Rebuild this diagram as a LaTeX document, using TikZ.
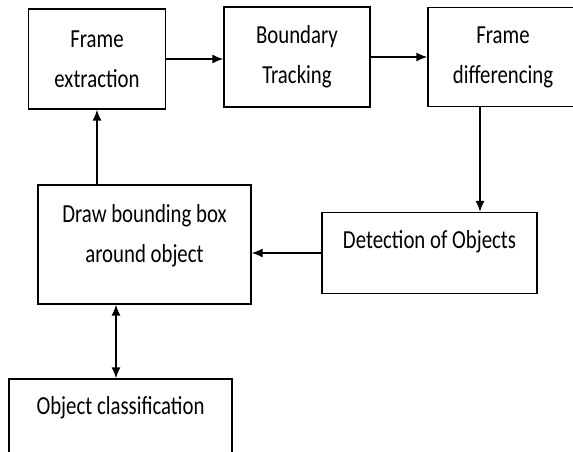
\documentclass[tikz,border=0pt]{standalone}
\usepackage{fontspec}
\setmainfont{Carlito}[FakeStretch=0.8]
\usepackage{tikz}
\usetikzlibrary{arrows.meta}
\tikzset{>={Latex[length=11pt,width=9pt]}}

\begin{document}
\begin{tikzpicture}[x=1pt,y=-1pt,
    box/.style={draw,line width=1.3pt,inner sep=0pt,align=center,
      font=\fontsize{26}{40}\selectfont},
    flow/.style={->,line width=1.4pt}]
    \useasboundingbox (0,0) rectangle (573,452);
      \node[box,minimum width=137pt,minimum height=100pt] (fe) at (97,59) {Frame\\extraction};
      \node[box,minimum width=146pt,minimum height=100pt] (bt) at (297,57) {Boundary\\Tracking};
      \node[box,minimum width=150pt,minimum height=99pt] (fd) at (503,57) {Frame\\differencing};
      \node[box,minimum width=215pt,minimum height=81pt] (det) at (429.5,253) {Detection of Objects\\[-12pt]\mbox{}};
      \node[box,minimum width=213pt,minimum height=119pt] (bbox) at (144.5,244.5) {Draw bounding box\\around object\\[-17pt]\mbox{}};
      \node[box,minimum width=223pt,minimum height=81pt] (oc) at (120.5,419.5) {Object classification\\[-12pt]\mbox{}};
      \coordinate (dn) at (480,0);
      \coordinate (cl) at (116,0);
      \draw[flow] (fe.east) -- (fe.east -| bt.west);
      \draw[flow] (bt.east) -- (bt.east -| fd.west);
      \draw[flow] (fd.south -| dn) -- (det.north -| dn);
      \draw[flow] (det.west) -- (det.west -| bbox.east);
      \draw[flow] (bbox.north -| fe.south) -- (fe.south);
      \draw[flow,<->] (bbox.south -| cl) -- (oc.north -| cl);
\end{tikzpicture}
\end{document}
